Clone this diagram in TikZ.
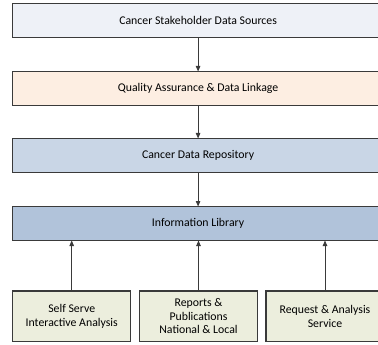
\documentclass[tikz,border=0pt]{standalone}
\usepackage{fontspec}
\setmainfont{Carlito}
\usetikzlibrary{arrows.meta}
\definecolor{cSrc}{HTML}{EEF1F7}
\definecolor{cQA}{HTML}{FDEEE2}
\definecolor{cRepo}{HTML}{C9D6E6}
\definecolor{cLib}{HTML}{B1C3DA}
\definecolor{cOut}{HTML}{ECEEDD}
\definecolor{cEdge}{HTML}{3A3A3A}
\begin{document}
\begin{tikzpicture}[x=1pt,y=-1pt,
  wide/.style={draw=cEdge,line width=1.2pt,minimum width=370.8pt,minimum height=34pt,
    inner sep=0pt,outer sep=0pt,font=\fontsize{11.8}{13.5}\selectfont},
  small/.style={draw=cEdge,line width=1.2pt,minimum width=118pt,minimum height=50.5pt,
    inner sep=0pt,outer sep=0pt,fill=cOut,align=center,font=\fontsize{11.8}{13.5}\selectfont},
  conn/.style={draw=cEdge,line width=0.8pt,-{Triangle[length=5.5pt,width=4.5pt]}}]
\useasboundingbox (0,0) rectangle (378,345);
\clip (0,0) rectangle (378,345);
\node[wide,fill=cSrc] (src) at (198.1,20.5) {Cancer Stakeholder Data Sources};
\node[wide,fill=cQA] (qa) at (198.1,88.5) {Quality Assurance \& Data Linkage};
\node[wide,fill=cRepo] (repo) at (198.1,155.5) {Cancer Data Repository};
\node[wide,fill=cLib] (lib) at (198.1,223.5) {Information Library};
\node[small] (self) at (71.7,316.3) {Self Serve\\Interactive Analysis};
\node[small] (rep) at (198.5,316.3) {Reports \&\\Publications\\National \& Local};
\node[small] (req) at (325,316.3) {Request \& Analysis\\Service};
\draw[conn] (src) -- (qa);
\draw[conn] (qa) -- (repo);
\draw[conn] (repo) -- (lib);
\draw[conn] (self.north) -- (self.north |- lib.south);
\draw[conn] (rep.north) -- (rep.north |- lib.south);
\draw[conn] (req.north) -- (req.north |- lib.south);
\end{tikzpicture}
\end{document}
